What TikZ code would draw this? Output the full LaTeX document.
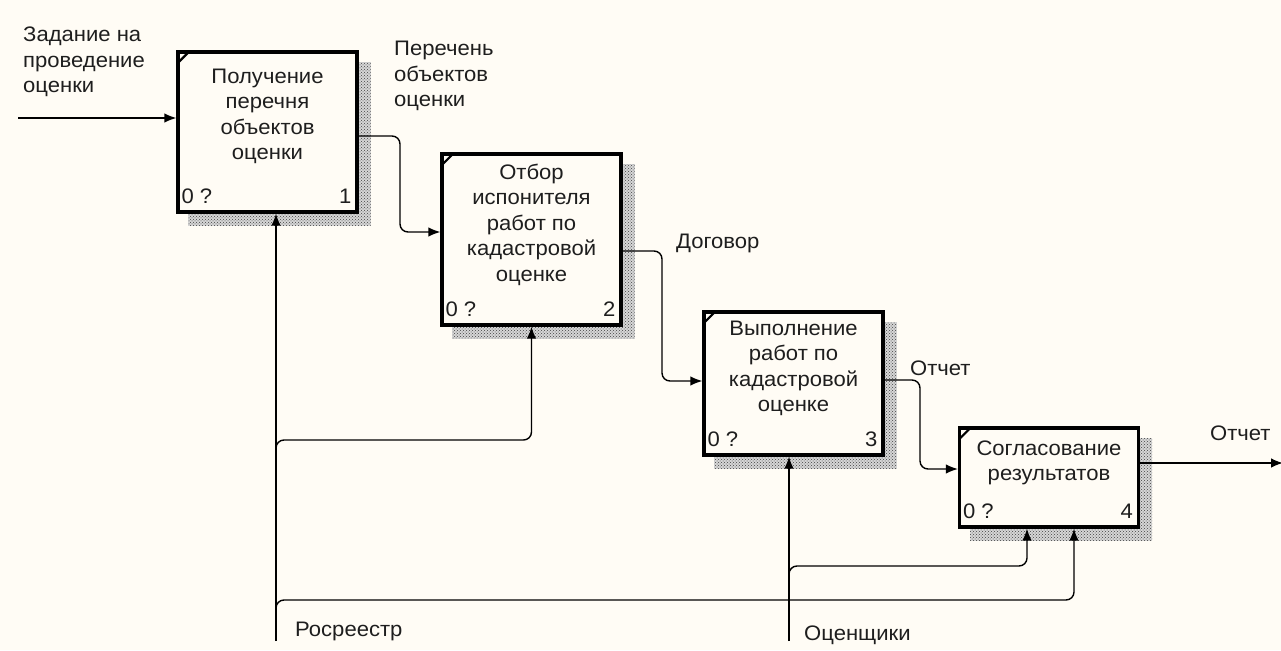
\documentclass[tikz,border=0pt]{standalone}
\usepackage{fontspec}
\setmainfont{Liberation Sans}[FakeStretch=1.05]
\usetikzlibrary{calc,patterns,arrows.meta}
\definecolor{paper}{RGB}{255,252,245}
\definecolor{ink}{RGB}{30,30,30}
\pgfdeclarelayer{back}
\pgfsetlayers{back,main}

\begin{document}
\begin{tikzpicture}[x=1pt,y=-1pt,
  fnbox/.style={draw=black, line width=3.2pt, fill=paper, minimum width=179pt, inner sep=0pt},
  shadowbase/.style={fill=black!16},
  shadowfill/.style={pattern=crosshatch dots, pattern color=black!75},
  cornertick/.style={line width=2.2pt},
  wire/.style={line width=1.4pt, draw=black, rounded corners=8pt},
  conn/.style={wire, -{Latex[length=12pt,width=9.5pt]}},
  txt/.style={font=\fontsize{21}{25.5}\selectfont, text=ink, inner sep=0pt},
  btxt/.style={txt, align=center, anchor=north},
  lbl/.style={txt, align=left, anchor=north west},
  one/.style={txt, anchor=base west},
  tagl/.style={txt, anchor=base west},
  tagr/.style={txt, anchor=base east}
]
% paper
\begin{pgfonlayer}{back}
  \fill[paper] (0,0) rectangle (1281,650);
\end{pgfonlayer}
\useasboundingbox (0,0) rectangle (1281,650);

% function boxes
\node[fnbox, minimum height=160pt] (b1) at (267.5,132) {};
\node[fnbox, minimum height=171pt] (b2) at (531.5,239.5) {};
\node[fnbox, minimum height=143pt] (b3) at (793.5,383.5) {};
\node[fnbox, minimum height=99pt]  (b4) at (1049,477.5) {};

% hatched shadows
\begin{pgfonlayer}{back}
  \foreach \b in {b1,b2,b3,b4}{
    \fill[shadowbase] ($(\b.north west)+(12,12)$) rectangle ($(\b.south east)+(12,12)$);
    \fill[shadowfill] ($(\b.north west)+(12,12)$) rectangle ($(\b.south east)+(12,12)$);
  }
\end{pgfonlayer}

% corner ticks, box numbers
\foreach \b/\n in {b1/1,b2/2,b3/3,b4/4}{
  \draw[cornertick] ($(\b.north west)+(2,12)$) -- ($(\b.north west)+(12,2)$);
  \node[tagl] at ($(\b.south west)+(5,-10.5)$) {0 ?};
  \node[tagr] at ($(\b.south east)+(-7,-10.5)$) {\n};
}

% box titles
\node[btxt] (t1) at ($(b1.north)+(0,18)$) {Получение\\перечня\\объектов\\оценки};
\node[btxt] (t2) at ($(b2.north)+(0,11)$) {Отбор\\испонителя\\работ по\\кадастровой\\оценке};
\node[btxt] (t3) at ($(b3.north)+(0,10)$) {Выполнение\\работ по\\кадастровой\\оценке};
\node[btxt] (t4) at ($(b4.north)+(0,14)$) {Согласование\\результатов};

% input
\coordinate (in1) at (18,118);
\draw[conn] (in1) -- (in1 -| b1.west);
\node[lbl] (lin) at (23,27) {Задание на\\проведение\\оценки};

% outputs between boxes
\draw[conn] ($(b1.east)+(0,4)$) -| (400,200) |- ($(b2.west)+(0,-7.5)$);
\node[lbl] (l12) at (394,41) {Перечень\\объектов\\оценки};

\draw[conn] ($(b2.east)+(0,11.5)$) -| (662,320) |- ($(b3.west)+(0,-2.5)$);
\node[one] (l23) at (676,248) {Договор};

\draw[conn] ($(b3.east)+(0,-3.5)$) -| (920,420) |- ($(b4.west)+(0,-8.5)$);
\node[one] (l34) at (910,375) {Отчет};

\coordinate (out1) at (1283,463);
\draw[conn] (b4.east |- out1) -- (out1);
\node[one] (lout) at (1210,440) {Отчет};

% mechanisms / controls from below
\coordinate (r0) at (276,641);
\draw[conn] (r0) -- (r0 |- b1.south);
\draw[conn] (276,449) -- (276,440) -| (b2.south);
\draw[conn] (276,609) -- (276,600) -| ($(b4.south)+(25,0)$);
\node[one] (lr) at (295,636) {Росреестр};

\coordinate (o0) at (789,641);
\draw[conn] (o0) -- (o0 |- b3.south);
\draw[conn] (789,575) -- (789,566) -| ($(b4.south)+(-22,0)$);
\node[one] (lo) at (804,640) {Оценщики};

\end{tikzpicture}
\end{document}
